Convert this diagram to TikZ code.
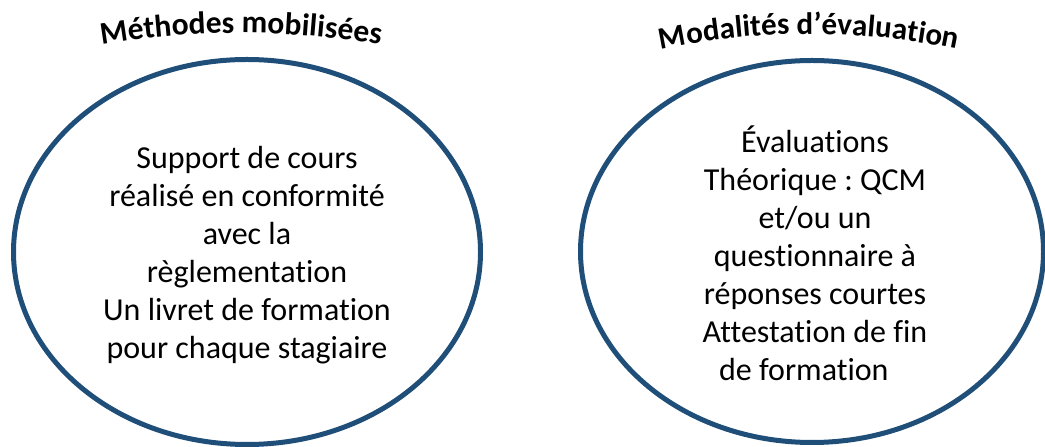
\documentclass[tikz,border=0pt]{standalone}
\usepackage{fontspec}
\setmainfont{Carlito}[Ligatures=NoCommon]
\usetikzlibrary{shapes.geometric,decorations.text}
\definecolor{ringblue}{HTML}{1F4E79}
\frenchspacing
\begin{document}
\begin{tikzpicture}[
        x=1pt, y=1pt,
        ring/.style={draw=ringblue, line width=5pt, ellipse, inner sep=0pt},
        body/.style={align=center, font=\fontsize{32}{38}\selectfont},
    ]
    \useasboundingbox (0,0) rectangle (1045,447);
    \node[ring, minimum width=467pt, minimum height=385pt] (methodes) at (247,195) {};
    \node[ring, minimum width=463pt, minimum height=382pt] (modalites) at (812,195.5) {};
    \node[body] (methodestext) at (247,192) {Support de cours\\réalisé en conformité\\avec la\\règlementation\\Un livret de formation\\pour chaque stagiaire};
    \node[body] (modalitestext) at (815,194) {Évaluations\\Théorique : QCM\\et/ou un\\questionnaire à\\réponses courtes\\Attestation de fin\\de formation\hspace*{0.7em}};
    % curved titles
    \path[decorate, decoration={text along path, text align=center,
        text={|\bfseries\fontsize{31.5}{33}\selectfont|Méthodes mobilisées}}]
        (241,414-850) ++(100.5:850) arc[start angle=100.5, end angle=79.5, radius=850];
    \path[decorate, decoration={text along path, text align=center,
        text={|\bfseries\fontsize{31}{33}\selectfont|Modalités d’évaluation}}]
        (809,413-730) ++(102.5:730) arc[start angle=102.5, end angle=77.5, radius=730];
\end{tikzpicture}
\end{document}
